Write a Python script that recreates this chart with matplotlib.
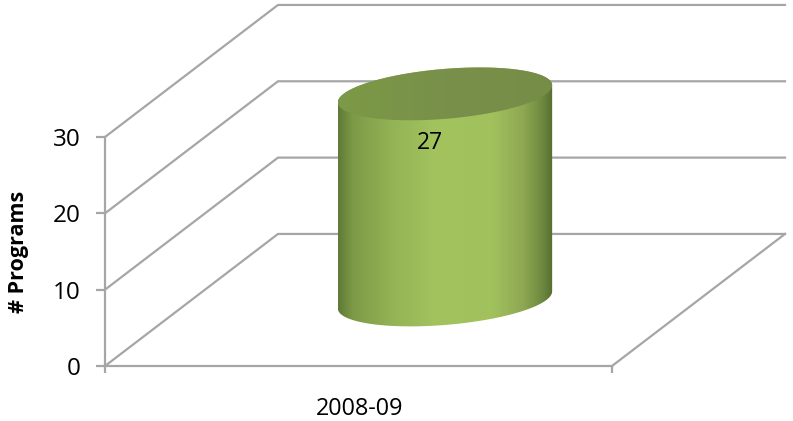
import numpy as np
import matplotlib
matplotlib.use("Agg")
import matplotlib.pyplot as plt
from matplotlib.colors import LinearSegmentedColormap
from matplotlib.patches import Polygon

# --- data ---
categories = ["2008-09"]
programs = [27]
y_ticks = [0, 10, 20, 30]

# --- 3d look: how far the back wall sits from the front plane, in data units ---
W, H = 793, 421
DEPTH_X = 173 / 507
DEPTH_Y = 132 / 7.63
RADIUS = 0.2
GRID = "#a6a6a6"

plt.rcParams["font.family"] = ["Open Sans", "DejaVu Sans"]

fig = plt.figure(figsize=(W / 100, H / 100), dpi=100)
ax = fig.add_axes([105 / W, 1 - 366 / H, 507 / W, 229 / H])
ax.set_xlim(0, 1)
ax.set_ylim(0, 30)

for s in ["top", "right"]:
    ax.spines[s].set_visible(False)
for s in ["left", "bottom"]:
    ax.spines[s].set_color(GRID)
    ax.spines[s].set_linewidth(1.6)

ax.set_yticks(y_ticks)
ax.set_xticks([0, 1])
ax.set_xticklabels([])
ax.tick_params(axis="y", color=GRID, width=1.6, length=6.5, labelsize=17.5, pad=11)
ax.tick_params(axis="x", color=GRID, width=1.6, length=5)
ax.set_ylabel("# Programs", fontsize=15.5, fontweight="bold")
ax.yaxis.set_label_coords(-0.15, 0.5)

# walls and floor
for v in y_ticks:
    ax.plot([0, DEPTH_X, 1 + DEPTH_X], [v, v + DEPTH_Y, v + DEPTH_Y],
            color=GRID, lw=1.6, clip_on=False, zorder=1)
ax.plot([1 + DEPTH_X, 1], [DEPTH_Y, 0], color=GRID, lw=1.6, clip_on=False, zorder=1)

# cylinder
body_cmap = LinearSegmentedColormap.from_list("body", [
    (0.0, "#5f7a37"), (0.07, "#7d9b47"), (0.25, "#93b355"), (0.45, "#a3c35f"),
    (0.72, "#a1c15d"), (0.86, "#8fa853"), (0.95, "#6f8a3f"), (1.0, "#566e30")])
top_cmap = LinearSegmentedColormap.from_list("top", ["#7c9a46", "#78904a", "#768d48"])


def ellipse_arc(cx, cy, t):
    x = cx + RADIUS * np.cos(t) + RADIUS * DEPTH_X * np.sin(t)
    y = cy + RADIUS * DEPTH_Y * np.sin(t)
    return np.column_stack([x, y])


for i, value in enumerate(programs):
    cx = 0.5 + DEPTH_X / 2
    cy = DEPTH_Y / 2
    t0 = np.arctan2(DEPTH_X, 1)
    lower = ellipse_arc(cx, cy, np.linspace(t0, t0 - np.pi, 80))
    upper = ellipse_arc(cx, cy + value, np.linspace(t0 - np.pi, t0 - 2 * np.pi, 80))
    half = RADIUS * np.hypot(1, DEPTH_X)

    body = Polygon(np.vstack([lower, upper]), closed=True, fc="none", ec="none",
                   transform=ax.transData)
    ax.add_patch(body)
    im = ax.imshow(np.linspace(0, 1, 256).reshape(1, -1), cmap=body_cmap, aspect="auto",
                   extent=[cx - half, cx + half, cy - 10, cy + value + 10], zorder=2)
    im.set_clip_box(fig.bbox)
    im.set_clip_path(body)

    # top face, lighter rim is left by the body gradient below it
    face = Polygon(ellipse_arc(cx, cy + value, np.linspace(0, 2 * np.pi, 160)), closed=True,
                   fc="none", ec="none", transform=ax.transData)
    ax.add_patch(face)
    im2 = ax.imshow(np.linspace(0, 1, 256).reshape(1, -1), cmap=top_cmap, aspect="auto",
                    extent=[cx - half, cx + half, cy + value - 5, cy + value + 5], zorder=3)
    im2.set_clip_box(fig.bbox)
    im2.set_clip_path(face)

    ax.text(cx - 0.03, value + 2.2, str(value), ha="center", va="center",
            fontsize=16.5, color="black", zorder=4)
    ax.text(0.503, -5.6, categories[i], ha="center", va="center", fontsize=16.8, color="black")

ax.set_xlim(0, 1)
ax.set_ylim(0, 30)

fig.savefig("out.png", dpi=100)
